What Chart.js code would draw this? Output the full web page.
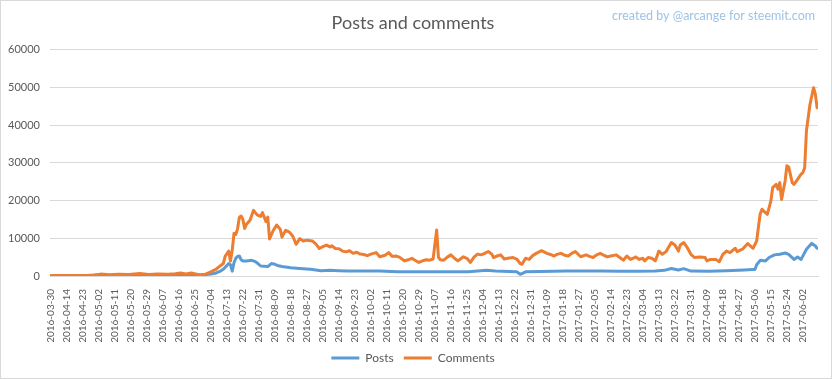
<!DOCTYPE html>
<html>
<head>
<meta charset="utf-8">
<script src="https://cdn.jsdelivr.net/npm/chart.js@4/dist/chart.umd.min.js"></script>
<style>
  body { margin: 0; background: #fff; }
  #wrap { width: 832px; height: 379px; box-sizing: border-box; border: 1px solid #d9d9d9; }
  canvas { display: block; }
</style>
</head>
<body>
<div id="wrap"><canvas id="postsChart" width="830" height="377"></canvas></div>
<script>
// tick labels shown on the category axis (every 9th category)
var tickLabels = [
    '2016-03-30', '2016-04-14', '2016-04-23', '2016-05-02', '2016-05-11', '2016-05-20',
    '2016-05-29', '2016-06-07', '2016-06-16', '2016-06-25', '2016-07-04', '2016-07-13',
    '2016-07-22', '2016-07-31', '2016-08-09', '2016-08-18', '2016-08-27', '2016-09-05',
    '2016-09-14', '2016-09-23', '2016-10-02', '2016-10-11', '2016-10-20', '2016-10-29',
    '2016-11-07', '2016-11-16', '2016-11-25', '2016-12-04', '2016-12-13', '2016-12-22',
    '2016-12-31', '2017-01-09', '2017-01-18', '2017-01-27', '2017-02-05', '2017-02-14',
    '2017-02-23', '2017-03-04', '2017-03-13', '2017-03-22', '2017-03-31', '2017-04-09',
    '2017-04-18', '2017-04-27', '2017-05-06', '2017-05-15', '2017-05-24', '2017-06-02'
];
var tickStep = 9;
var lastIdx = 431;

// Posts: category index / value
var postIdx = [0, 20, 40, 60, 75, 85, 90, 93, 95, 97, 99, 100, 101, 102, 103, 104, 105, 106, 107, 108,
    110, 113, 115, 116, 118, 120, 122, 124, 126, 128, 130, 135, 140, 146, 152, 157, 162, 167, 176, 185,
    195, 205, 215, 225, 235, 245, 250, 258, 262, 264, 267, 275, 290, 300, 310, 320, 330, 340, 345, 349,
    353, 356, 360, 370, 380, 390, 395, 396, 397, 399, 402, 404, 407, 410, 413, 415, 418, 420, 422, 425,
    428, 430, 431];
var posts = [50, 80, 150, 200, 250, 300, 500, 800, 1200, 1800, 2800, 3300, 3000, 1300, 3500, 4700, 5200, 5300, 4300, 4000,
    4000, 4150, 3800, 3500, 2650, 2600, 2500, 3300, 3100, 2700, 2500, 2200, 2000, 1800, 1400, 1500, 1400, 1300, 1300, 1300,
    1150, 1100, 1100, 1150, 1150, 1500, 1300, 1200, 1100, 450, 1100, 1200, 1300, 1300, 1300, 1250, 1250, 1300, 1500, 2000,
    1600, 1950, 1300, 1250, 1400, 1600, 1750, 1700, 3000, 4150, 4000, 4900, 5600, 5750, 6100, 5750, 4400, 5050, 4400, 7100,
    8650, 7950, 7350];

// Comments: category index / value
var commentIdx = [0, 10, 20, 24, 28, 33, 38, 44, 50, 55, 60, 66, 70, 73, 76, 79, 82, 84, 87, 90,
    93, 95, 97, 98, 100, 101, 102, 103, 104, 105, 106, 107, 108, 109, 110, 112, 114, 116, 118, 119,
    121, 122, 123, 125, 127, 129, 130, 132, 134, 136, 138, 140, 142, 144, 147, 149, 151, 153, 155, 157,
    158, 160, 162, 164, 166, 168, 170, 172, 174, 176, 178, 180, 183, 185, 188, 190, 192, 194, 196, 199,
    201, 203, 205, 207, 209, 211, 213, 215, 217, 218, 219, 221, 223, 225, 227, 229, 232, 234, 236, 238,
    240, 242, 244, 246, 248, 249, 251, 253, 255, 257, 260, 262, 264, 265, 267, 269, 271, 273, 276, 279,
    281, 283, 285, 287, 289, 291, 293, 295, 298, 301, 303, 305, 307, 309, 311, 313, 315, 318, 320, 322,
    324, 326, 328, 329, 331, 333, 334, 336, 338, 340, 342, 344, 346, 349, 351, 353, 354, 356, 358, 360,
    362, 365, 368, 369, 371, 374, 376, 378, 380, 382, 385, 386, 389, 392, 395, 397, 398, 399, 400, 401,
    403, 405, 406, 408, 409, 410, 411, 413, 414, 415, 417, 418, 420, 422, 423, 424, 425, 427, 429, 430,
    431];
var comments = [100, 100, 150, 250, 500, 350, 450, 400, 650, 400, 500, 450, 600, 800, 550, 800, 500, 300, 500, 1100,
    1800, 2600, 3300, 5200, 6600, 4000, 6800, 11300, 11000, 12500, 15500, 15900, 15000, 12600, 13700, 14800, 17400, 16200, 15800, 16800,
    14400, 15600, 9800, 12000, 13500, 12400, 10300, 12100, 11700, 10600, 8400, 9900, 9300, 9500, 9300, 8500, 7300, 7800, 8200, 7700,
    8000, 7300, 7200, 6600, 6400, 6700, 6000, 6300, 5800, 5700, 5400, 5800, 6200, 5100, 5500, 6200, 5200, 5300, 5000, 4000,
    4300, 4700, 4100, 3600, 4000, 4300, 4200, 4500, 12200, 5000, 4300, 4200, 5000, 5600, 4700, 4000, 5100, 4700, 3600, 5000,
    5800, 5600, 6000, 6500, 5800, 4900, 5300, 5600, 4500, 4700, 4900, 4500, 3300, 3100, 4700, 4400, 5400, 6000, 6700, 6000,
    5700, 5300, 5800, 6000, 5500, 5300, 6000, 6500, 5100, 5600, 5200, 4900, 5600, 6000, 5500, 5100, 5300, 5600, 4900, 4200,
    5300, 4400, 4800, 5050, 4400, 4700, 4000, 4900, 4700, 4000, 6600, 5750, 6450, 8850, 8200, 6600, 8200, 8850, 7500, 5750,
    4900, 5050, 4900, 4000, 4400, 4400, 3800, 5750, 6600, 6200, 7350, 6450, 7100, 8600, 7350, 9300, 13000, 16500, 17700, 17200,
    16350, 19900, 23400, 24300, 23000, 24750, 20300, 25200, 29200, 28900, 24750, 24300, 25600, 27000, 27400, 28700, 38500, 45500, 49900, 48200,
    44600];

function toPoints(xs, ys) {
    return xs.map(function(x, i) { return { x: x, y: ys[i] }; });
}

// watermark in the top right corner
var watermarkPlugin = {
    id: 'watermark',
    afterDraw: function(chart) {
        var ctx = chart.ctx;
        ctx.save();
        ctx.font = '12.5px Lato, "Open Sans", sans-serif';
        ctx.fillStyle = '#9dc3e6';
        ctx.textAlign = 'right';
        ctx.textBaseline = 'middle';
        ctx.fillText('created by @arcange for steemit.com', 814, 15);
        ctx.restore();
    }
};

var textColor = '#595959';
var gridColor = '#d9d9d9';
var fontFamily = 'Lato, "Open Sans", sans-serif';

var ctx = document.getElementById('postsChart').getContext('2d');
var postsChart = new Chart(ctx, {
    type: 'line',
    data: {
        datasets: [{
            label: 'Posts',
            data: toPoints(postIdx, posts),
            borderColor: '#5b9bd5',
            backgroundColor: '#5b9bd5',
            borderWidth: 3,
            order: 1
        }, {
            label: 'Comments',
            data: toPoints(commentIdx, comments),
            borderColor: '#ed7d31',
            backgroundColor: '#ed7d31',
            borderWidth: 3,
            order: 0
        }]
    },
    options: {
        responsive: false,
        animation: false,
        layout: { padding: { left: 7, right: 13, top: 0, bottom: 4 } },
        elements: {
            point: { radius: 0 },
            line: { tension: 0, borderJoinStyle: 'round', borderCapStyle: 'round' }
        },
        scales: {
            x: {
                type: 'linear',
                min: -0.5,
                max: lastIdx + 0.5,
                grid: { display: false },
                border: { display: true, color: gridColor },
                afterBuildTicks: function(axis) {
                    axis.ticks = tickLabels.map(function(t, i) { return { value: i * tickStep }; });
                },
                afterFit: function(axis) { axis.height = 66; },
                ticks: {
                    autoSkip: false,
                    minRotation: 90,
                    maxRotation: 90,
                    padding: 5,
                    color: textColor,
                    font: { family: fontFamily, size: 10 },
                    callback: function(value) {
                        return tickLabels[Math.round(value / tickStep)];
                    }
                }
            },
            y: {
                min: 0,
                max: 60000,
                border: { display: false },
                grid: { color: gridColor, drawTicks: false },
                afterFit: function(axis) { axis.width = 42; },
                ticks: {
                    stepSize: 10000,
                    padding: 10,
                    color: textColor,
                    font: { family: fontFamily, size: 11 },
                    callback: function(value) { return String(value); }
                }
            }
        },
        plugins: {
            title: {
                display: true,
                text: 'Posts and comments',
                color: textColor,
                font: { family: fontFamily, size: 18, weight: 'normal' },
                padding: { top: 11, bottom: 16 }
            },
            legend: {
                position: 'bottom',
                labels: {
                    usePointStyle: true,
                    pointStyle: 'line',
                    pointStyleWidth: 28,
                    color: textColor,
                    padding: 10,
                    font: { family: fontFamily, size: 12 },
                    sort: function(a, b) { return a.datasetIndex - b.datasetIndex; }
                }
            },
            tooltip: { enabled: false }
        }
    },
    plugins: [watermarkPlugin]
});
</script>
</body>
</html>
